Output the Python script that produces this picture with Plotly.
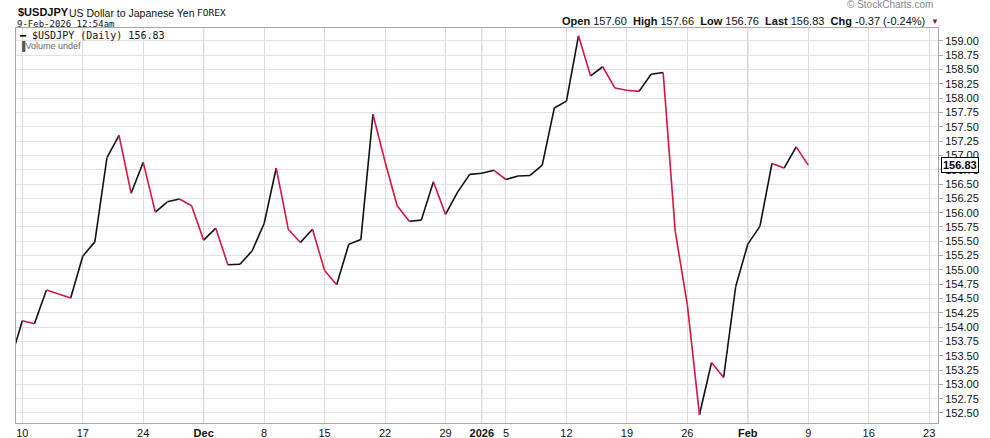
from __future__ import annotations

import pandas as pd
import plotly.graph_objects as go

# daily closes, one per weekday from 2025-11-07 to 2026-02-09 (forex trades on holidays too)
dates = pd.bdate_range("2025-11-07", "2026-02-09")
closes = [
    153.40,
    154.11, 154.06, 154.65, 154.58, 154.51,
    155.24, 155.49, 156.96, 157.35, 156.34,
    156.88, 156.01, 156.19, 156.24, 156.12,
    155.52, 155.73, 155.09, 155.10, 155.33,
    155.81, 156.78, 155.71, 155.48, 155.71,
    154.99, 154.74, 155.45, 155.53, 157.72,
    156.89, 156.12, 155.85, 155.87, 156.54,
    155.97, 156.36, 156.67, 156.69, 156.74,
    156.58, 156.64, 156.65, 156.83, 157.83,
    157.95, 159.09, 158.39, 158.55, 158.18,
    158.14, 158.12, 158.42, 158.45, 155.67,
    154.39, 152.47, 153.38, 153.12, 154.71,
    155.45, 155.76, 156.86, 156.78, 157.15,
    156.83,
]
tick_dates = [
    "2025-11-10", "2025-11-17", "2025-11-24", "2025-12-01", "2025-12-08", "2025-12-15",
    "2025-12-22", "2025-12-29", "2026-01-01", "2026-01-05", "2026-01-12", "2026-01-19",
    "2026-01-26", "2026-02-02", "2026-02-09", "2026-02-16", "2026-02-23",
]
tick_text = [
    "10", "17", "24", "<b>Dec</b>", "8", "15", "22", "29", "<b>2026</b>", "5", "12", "19",
    "26", "<b>Feb</b>", "9", "16", "23",
]
month_starts = ["2025-12-01", "2026-01-01", "2026-02-02"]
y_ticks = [152.5 + 0.25 * i for i in range(27)]
ohlc = dict(open=157.60, high=157.66, low=156.76, last=156.83, chg=-0.37, chg_pct=-0.24)

UP = "#111111"
DOWN = "#d6163f"
FONT = "Liberation Sans, Arial, sans-serif"
MONO = "DejaVu Sans Mono, monospace"

W, H = 990, 438
L, R, T, B = 16, 52, 28, 15


def _paper(x: float, y: float) -> tuple[float, float]:
    # pixel position on the page -> paper coordinates of the plot area
    return (x - L) / (W - L - R), (H - B - y) / (H - T - B)


def _segments(up: bool) -> tuple[list, list]:
    xs, ys = [], []
    for i in range(len(closes) - 1):
        if (closes[i + 1] < closes[i]) != up:
            xs += [dates[i], dates[i + 1], None]
            ys += [closes[i], closes[i + 1], None]
    return xs, ys


def _text(fig: go.Figure, x: float, y: float, text: str, size: float, anchor: str = "left",
          family: str = FONT, color: str = "#111111") -> None:
    px, py = _paper(x, y)
    fig.add_annotation(x=px, y=py, xref="paper", yref="paper", text=text, showarrow=False,
                       xanchor=anchor, yanchor="middle", font=dict(family=family, size=size, color=color))


fig = go.Figure()
for up, color in ((True, UP), (False, DOWN)):
    xs, ys = _segments(up)
    fig.add_trace(go.Scatter(x=xs, y=ys, mode="lines", line=dict(color=color, width=1.6),
                             showlegend=False, hoverinfo="skip"))

for d in month_starts:
    fig.add_vline(x=d, line_color="#b8b8b8", line_width=1, layer="below")

_text(fig, 16, 12, "<b>$USDJPY</b>", 11)
_text(fig, 67, 12.5, "US Dollar to Japanese Yen", 10.5)
_text(fig, 195, 12.5, "FOREX", 9.5, family=MONO)
_text(fig, 15, 24, "9-Feb-2026 12:54am", 9, family=MONO)
_text(fig, 17, 35.5, "━ $USDJPY (Daily) %.2f" % closes[-1], 10, family=MONO)
_text(fig, 17, 45.5, "<span style='color:#555'>▐</span>Volume undef", 9, color="#666666")
_text(fig, 935, 5, "© StockCharts.com", 10, anchor="right", color="#888888")
_text(fig, 927, 21.5,
      "<b>Open</b> %.2f  <b>High</b> %.2f  <b>Low</b> %.2f  <b>Last</b> %.2f  <b>Chg</b> %.2f (%.2f%%)"
      % (ohlc["open"], ohlc["high"], ohlc["low"], ohlc["last"], ohlc["chg"], ohlc["chg_pct"]),
      11, anchor="right")
_text(fig, 929, 22, "▼", 8, color="#8b1a2b")

fig.add_annotation(x=1, y=closes[-1], xref="paper", yref="y", text="<b>%.2f</b>" % closes[-1],
                   showarrow=False, xanchor="left", yanchor="middle", xshift=3,
                   bordercolor="#000000", borderwidth=1, borderpad=1, bgcolor="white",
                   font=dict(family=FONT, size=11, color="#000000"))

fig.update_layout(
    width=W,
    height=H,
    margin=dict(l=L, r=R, t=T, b=B),
    paper_bgcolor="white",
    plot_bgcolor="white",
    showlegend=False,
    xaxis=dict(
        range=["2025-11-07 11:30", "2026-02-23 17:30"],
        rangebreaks=[dict(bounds=["sat", "mon"])],
        tickvals=tick_dates,
        ticktext=tick_text,
        tickangle=0,
        ticks="",
        showgrid=True,
        gridcolor="#dcdcdc",
        gridwidth=1,
        showline=True,
        linecolor="#a8a8a8",
        mirror=True,
        zeroline=False,
        automargin=False,
        tickfont=dict(family=FONT, size=11, color="#111111"),
    ),
    yaxis=dict(
        side="right",
        range=[152.325, 159.227],
        tickvals=y_ticks,
        tickformat=".2f",
        ticks="outside",
        ticklen=4,
        tickcolor="#a8a8a8",
        showgrid=True,
        gridcolor="#e2e2e2",
        gridwidth=1,
        showline=True,
        linecolor="#a8a8a8",
        mirror=True,
        zeroline=False,
        automargin=False,
        tickfont=dict(family=FONT, size=11, color="#111111"),
    ),
)

# the page's default body margin would shift the whole chart by 8px
fig.write_html("out.html", config={"displayModeBar": False},
               post_script="document.body.style.margin='0';")
